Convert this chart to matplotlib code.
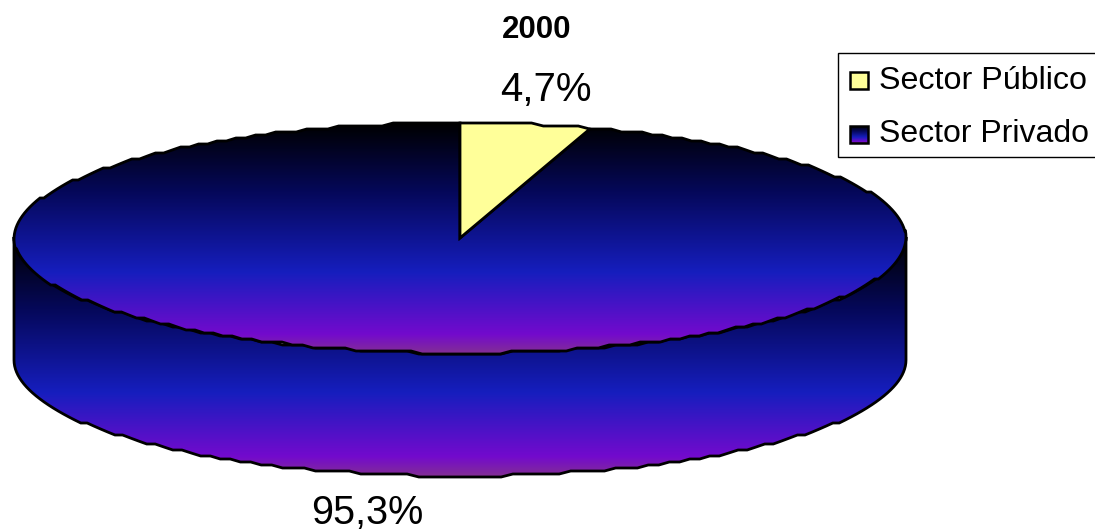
import matplotlib.pyplot as plt
from matplotlib.colors import LinearSegmentedColormap
from matplotlib.patches import Polygon, Rectangle
import numpy as np

plt.rcParams['font.family'] = ['Liberation Sans', 'DejaVu Sans']

title = '2000'
categories = ['Sector Público', 'Sector Privado']
shares = [4.7, 95.3]
share_labels = ['4,7%', '95,3%']

yellow = '#FFFF99'
grad = LinearSegmentedColormap.from_list('pie', [
    (0.0, (0, 0, 0)),
    (0.30, (5/255, 8/255, 90/255)),
    (0.65, (22/255, 30/255, 190/255)),
    (0.92, (115/255, 10/255, 205/255)),
    (1.0, (130/255, 45/255, 150/255)),
])
gradient = np.linspace(0, 1, 256).reshape(-1, 1)

cx, cy = 460, 238
rx, ry = 446, 115
depth = 123
lw = 2.0


def rim(t):
    # t is clockwise from 12 o'clock, in radians
    return cx + rx * np.sin(t), cy - ry * np.cos(t)


def outline(pts):
    # the original pie is a coarse polygon, keep the steps
    return np.column_stack([pts[0], np.round(pts[1] / 3.0) * 3.0])


fig = plt.figure(figsize=(10.95, 5.32), dpi=100)
ax = fig.add_axes([0, 0, 1, 1])

# side wall, front half of the ellipse moved down
t_front = np.linspace(np.pi / 2, 3 * np.pi / 2, 120)
x_top, y_top = rim(t_front)
side_xy = np.vstack([outline((x_top, y_top)), outline((x_top[::-1], y_top[::-1] + depth))])
side = Polygon(side_xy, closed=True, facecolor='none', edgecolor='none')
ax.add_patch(side)
im = ax.imshow(gradient, cmap=grad, aspect='auto', extent=[cx - rx, cx + rx, cy + ry + depth, cy], zorder=1)
im.set_clip_path(side)
ax.add_patch(Polygon(side_xy, closed=True, fill=False, edgecolor='black', linewidth=lw, zorder=2))

# top face, slices start at 12 o'clock and go clockwise
frac = shares[0] / sum(shares)
t_big = np.linspace(2 * np.pi * frac, 2 * np.pi, 240)
t_small = np.linspace(0, 2 * np.pi * frac, 12)

big_xy = np.vstack([[cx, cy], outline(rim(t_big))])
big = Polygon(big_xy, closed=True, facecolor='none', edgecolor='none', zorder=3)
ax.add_patch(big)
im2 = ax.imshow(gradient, cmap=grad, aspect='auto', extent=[cx - rx, cx + rx, cy + ry, cy - ry], zorder=3)
im2.set_clip_path(big)
ax.add_patch(Polygon(big_xy, closed=True, fill=False, edgecolor='black', linewidth=lw, zorder=4))

small_xy = np.vstack([[cx, cy], outline(rim(t_small))])
ax.add_patch(Polygon(small_xy, closed=True, facecolor=yellow, edgecolor='black', linewidth=lw, zorder=5))

# labels
ax.text(536.5, 30.5, title, fontsize=22.5, fontweight='bold', ha='center', va='center')
ax.text(546, 90, share_labels[0], fontsize=29, ha='center', va='center')
ax.text(367, 513, share_labels[1], fontsize=28.5, ha='center', va='center')

# legend box
ax.add_patch(Rectangle((837.5, 53), 262, 104, facecolor='white', edgecolor='black', linewidth=1.0, zorder=6))
ax.add_patch(Rectangle((850, 72), 18, 17, facecolor=yellow, edgecolor='black', linewidth=1.8, zorder=7))
swatch = Rectangle((850, 126), 18, 17, facecolor='none', edgecolor='black', linewidth=1.8, zorder=8)
ax.add_patch(swatch)
im3 = ax.imshow(gradient, cmap=grad, aspect='auto', extent=[850, 868, 143, 126], zorder=7)
im3.set_clip_path(swatch)
ax.text(879, 81, categories[0], fontsize=23.2, ha='left', va='center', zorder=8)
ax.text(879, 133.5, categories[1], fontsize=23.0, ha='left', va='center', zorder=8)

ax.set_xlim(0, 1095)
ax.set_ylim(532, 0)
ax.axis('off')

fig.savefig('out.png', dpi=100)
